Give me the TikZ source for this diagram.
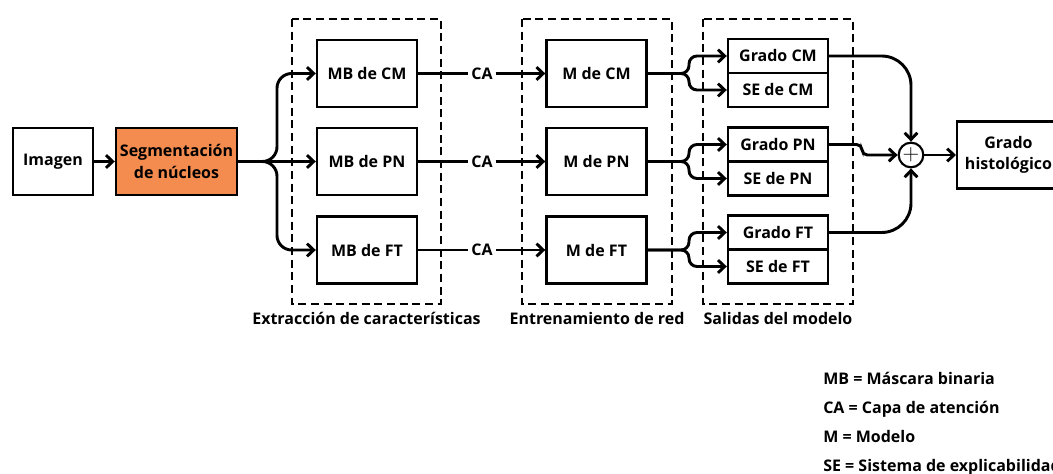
\documentclass[tikz,border=0pt]{standalone}
\usepackage{fontspec}
\setmainfont{Open Sans}
\usepackage{tikz}
\usetikzlibrary{positioning,
                calc,
                arrows.meta}
\definecolor{segorange}{HTML}{F58C4F}

\begin{document}
\begin{tikzpicture}[x=0.75pt,y=-0.75pt]

\tikzset{
block/.style={
draw=black,
line width=1.8pt,
inner sep=0pt,
minimum width=75pt,
minimum height=50pt,
align=center,
font=\fontsize{12}{16}\selectfont\bfseries
},
outblock/.style={
block,
minimum height=25.5pt
},
groupbox/.style={
draw=black,
line width=1.6pt,
dash pattern=on 6pt off 3.5pt
},
grouplabel/.style={
font=\fontsize{12}{14}\selectfont\bfseries
},
legendtext/.style={
anchor=base west,
inner sep=0pt,
font=\fontsize{12}{14}\selectfont\bfseries
},
link/.style={
line width=2.2pt
},
conn/.style={
link,
-{Straight Barb[length=5pt,width=9.5pt]}
}
}

\useasboundingbox (0,0) rectangle (1053,474);

%--------------------------------------------------
% GROUPS
%--------------------------------------------------

\draw[groupbox] (292,19) rectangle (441,304);
\draw[groupbox] (522,19) rectangle (672,304);
\draw[groupbox] (703,19) rectangle (853,304);

\node[grouplabel] (lblext) at (366.5,318) {Extracción de características};
\node[grouplabel] (lblent) at (597,318) {Entrenamiento de red};
\node[grouplabel] (lblsal) at (778,318) {Salidas del modelo};

%--------------------------------------------------
% INPUT
%--------------------------------------------------

\node[block,minimum width=60pt] (img) at (53,161.5) {Imagen};
\node[block,minimum width=90.75pt,fill=segorange] (seg) at (176.5,161.5)
{Segmentación\\de núcleos};

%--------------------------------------------------
% MASKS, ATTENTION, MODELS
%--------------------------------------------------

\node[block] (mbcm) at (367,73.5) {MB de CM};
\node[block] (mbpn) at (367,161.5) {MB de PN};
\node[block] (mbft) at (367,250) {MB de FT};

\node[grouplabel,inner sep=2pt] (cacm) at (482,73.5) {CA};
\node[grouplabel,inner sep=2pt] (capn) at (482,161.5) {CA};
\node[grouplabel,inner sep=2pt] (caft) at (482,250) {CA};

\node[block] (mcm) at (596.5,73.5) {M de CM};
\node[block] (mpn) at (596.5,161.5) {M de PN};
\node[block] (mft) at (596.5,250) {M de FT};

%--------------------------------------------------
% OUTPUTS
%--------------------------------------------------

\node[outblock] (gcm) at (778,56) {Grado CM};
\node[outblock] (secm) at (778,90) {SE de CM};
\node[outblock] (gpn) at (778,144.5) {Grado PN};
\node[outblock] (sepn) at (778,178.5) {SE de PN};
\node[outblock] (gft) at (778,232.5) {Grado FT};
\node[outblock] (seft) at (778,266.5) {SE de FT};

\node[draw=black,line width=1.6pt,circle,minimum size=18.5pt,inner sep=0pt]
(sum) at (911,155) {\fontsize{18}{18}\selectfont$+$};

\node[block,minimum width=77pt] (hist) at (1008.5,155)
{Grado\\histológico};

%--------------------------------------------------
% CONNECTORS
%--------------------------------------------------

\draw[conn] (img) -- (seg);

\coordinate (segfork) at (277,161.5);
\draw[conn,rounded corners=11pt] (seg.east) -- (segfork) |- (mbcm.west);
\draw[conn] (seg.east) -- (mbpn.west);
\draw[conn,rounded corners=11pt] (seg.east) -- (segfork) |- (mbft.west);

\draw[link] (mbcm) -- (cacm);
\draw[conn] (cacm) -- (mcm);
\draw[link] (mbpn) -- (capn);
\draw[conn] (capn) -- (mpn);
\draw[link] (mbft) -- (caft);
\draw[conn] (caft) -- (mft);

\coordinate (cmfork) at (689,73.5);
\coordinate (pnfork) at (689,161.5);
\coordinate (ftfork) at (689,250);
\draw[conn,rounded corners=6pt] (mcm.east) -- (cmfork) |- (gcm.west);
\draw[conn,rounded corners=6pt] (mcm.east) -- (cmfork) |- (secm.west);
\draw[conn,rounded corners=6pt] (mpn.east) -- (pnfork) |- (gpn.west);
\draw[conn,rounded corners=6pt] (mpn.east) -- (pnfork) |- (sepn.west);
\draw[conn,rounded corners=6pt] (mft.east) -- (ftfork) |- (gft.west);
\draw[conn,rounded corners=6pt] (mft.east) -- (ftfork) |- (seft.west);

\draw[conn,rounded corners=22pt] (gcm.east) -| (sum.north);
\coordinate (pnjog) at (862,155);
\draw[conn,rounded corners=4pt] (gpn.east) -| (pnjog) -- (sum.west);
\draw[conn,rounded corners=22pt] (gft.east) -| (sum.south);

\draw[conn] (sum) -- (hist);

%--------------------------------------------------
% LEGEND
%--------------------------------------------------

\node[legendtext] (legmb) at (823,384) {MB = Máscara binaria};
\node[legendtext] (legca) at (823,413) {CA = Capa de atención};
\node[legendtext] (legm) at (823,442) {M = Modelo};
\node[legendtext] (legse) at (823,471) {SE = Sistema de explicabilidad};

\end{tikzpicture}
\end{document}
